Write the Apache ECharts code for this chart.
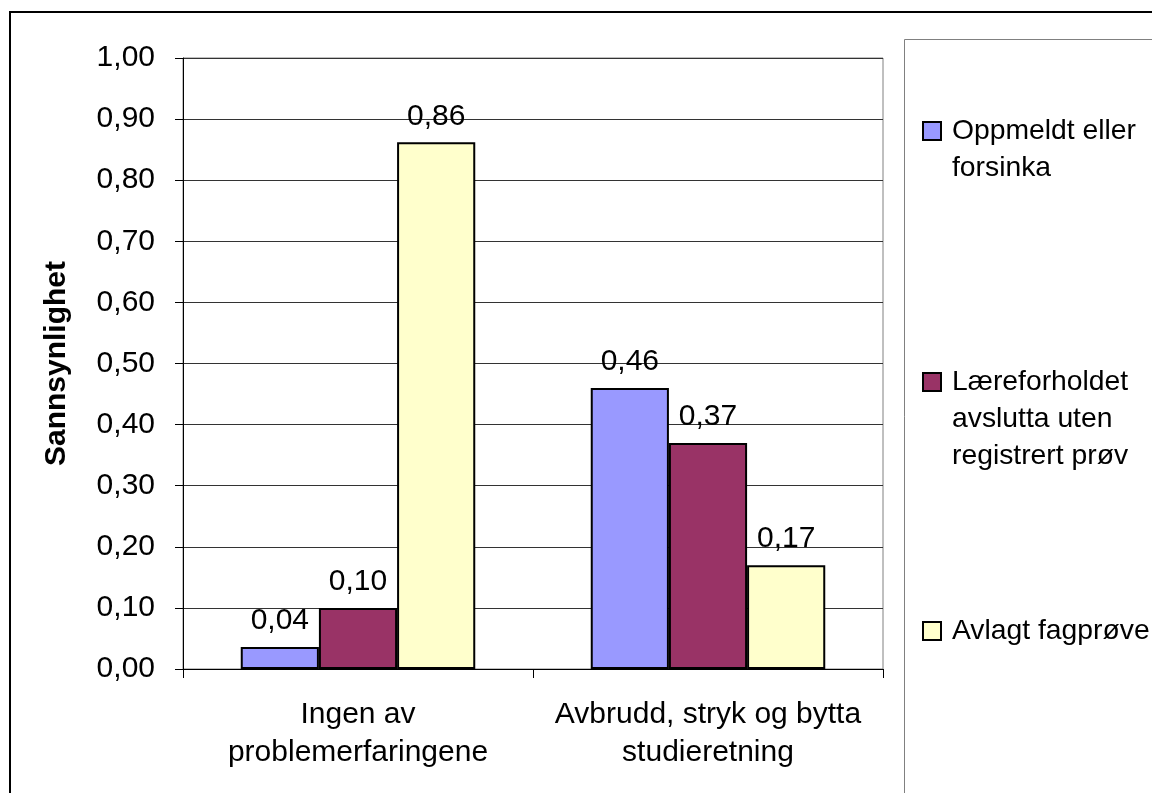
<!DOCTYPE html>
<html>
<head>
<meta charset="utf-8">
<script src="https://cdn.jsdelivr.net/npm/echarts@6/dist/echarts.min.js"></script>
<style>
html,body{margin:0;padding:0;background:#fff;}
#chart{width:1152px;height:793px;}
</style>
</head>
<body>
<div id="chart"></div>
<script>
const categories = ['Ingen av\nproblemerfaringene', 'Avbrudd, stryk og bytta\nstudieretning'];
const seriesNames = ['Oppmeldt eller forsinka', 'Læreforholdet avslutta uten registrert prøv', 'Avlagt fagprøve'];
const legendLabels = [['Oppmeldt eller', 'forsinka'], ['Læreforholdet', 'avslutta uten', 'registrert prøv'], ['Avlagt fagprøve']];
const valuesOppmeldt = [0.036, 0.46];
const valuesLaere = [0.10, 0.37];
const valuesAvlagt = [0.862, 0.17];
const yTicks = { min: 0, max: 1, interval: 0.1 };
const yAxisTitle = 'Sannsynlighet';

const colors = ['#9999FF', '#993366', '#FFFFCC'];
const FONT = 'Liberation Sans, Arial, sans-serif';
const seriesValues = [valuesOppmeldt, valuesLaere, valuesAvlagt];
const fmt = v => v.toFixed(2).replace('.', ',');

const chart = echarts.init(document.getElementById('chart'), null, { renderer: 'canvas' });

const LH = 37;
const legendCenters = [131, 382, 631];
const legends = seriesNames.map((name, i) => {
  const n = legendLabels[i].length;
  const total = 2 * n - 1;
  return {
    data: [name],
    orient: 'vertical',
    left: 922,
    top: legendCenters[i] - total * LH / 2,
    padding: 0,
    itemWidth: 18,
    itemHeight: 18,
    icon: 'rect',
    selectedMode: false,
    formatter: () => '\n'.repeat(n - 1) + legendLabels[i].join('\n'),
    textStyle: { fontFamily: FONT, fontSize: 28.3, color: '#000', lineHeight: LH, padding: [0, 0, 0, 6] }
  };
});

const option = {
  backgroundColor: '#fff',
  animation: false,
  grid: {
    left: 183, top: 58, right: 269, bottom: 124,
    show: true, borderColor: '#808080', borderWidth: 1
  },
  legend: legends,
  xAxis: {
    type: 'category',
    data: categories,
    axisLine: { show: true, lineStyle: { color: '#000', width: 1 } },
    axisTick: { show: true, length: 9, alignWithLabel: false, lineStyle: { color: '#000' } },
    axisLabel: { fontFamily: FONT, fontSize: 30, color: '#000', margin: 27, lineHeight: 38, interval: 0 }
  },
  yAxis: {
    type: 'value',
    min: yTicks.min, max: yTicks.max, interval: yTicks.interval,
    name: yAxisTitle,
    nameLocation: 'middle',
    nameRotate: 90,
    nameGap: 111,
    nameTextStyle: { fontFamily: FONT, fontSize: 30, fontWeight: 'bold', color: '#000' },
    axisLine: { show: true, lineStyle: { color: '#000', width: 1 } },
    axisTick: { show: true, length: 8, lineStyle: { color: '#000' } },
    axisLabel: { fontFamily: FONT, fontSize: 30, color: '#000', margin: 28, formatter: v => fmt(v) },
    splitLine: { show: true, lineStyle: { color: '#333', width: 1 } }
  },
  series: seriesNames.map((name, i) => ({
    name,
    type: 'bar',
    data: seriesValues[i],
    barGap: '0%',
    barCategoryGap: '33%',
    itemStyle: { color: colors[i], borderColor: '#000', borderWidth: 2 },
    label: {
      show: true, position: 'top', distance: 11,
      fontFamily: FONT, fontSize: 30, color: '#000',
      formatter: p => fmt(p.value)
    }
  })),
  graphic: [
    { type: 'rect', shape: { x: 10, y: 12, width: 1200, height: 900 }, style: { fill: 'none', stroke: '#000', lineWidth: 2 }, silent: true, z: 100 },
    { type: 'rect', shape: { x: 904.5, y: 39.5, width: 400, height: 900 }, style: { fill: 'none', stroke: '#808080', lineWidth: 1 }, silent: true, z: 100 }
  ]
};

chart.setOption(option);
</script>
</body>
</html>
